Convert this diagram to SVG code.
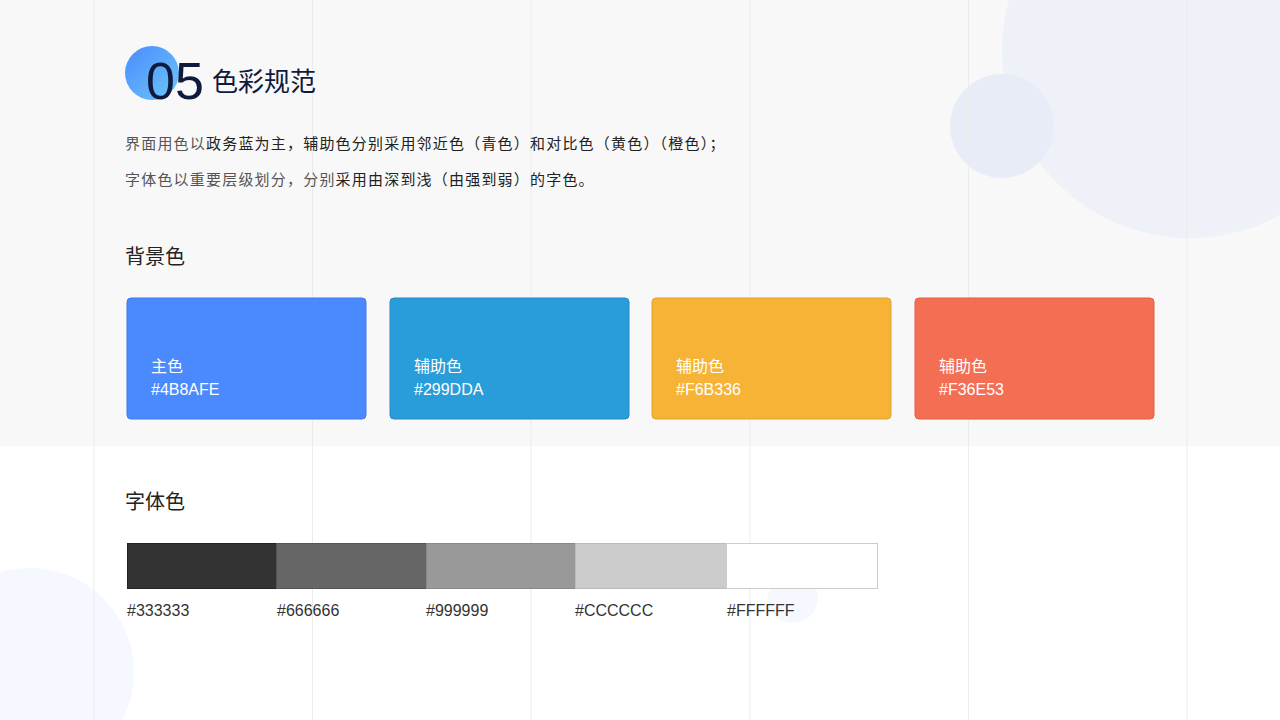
<svg xmlns="http://www.w3.org/2000/svg" width="1280" height="720" viewBox="0 0 1280 720">
<defs>
<linearGradient id="g" x1="0" y1="0" x2="1" y2="1"><stop offset="0" stop-color="#4B8AFE"/><stop offset="1" stop-color="#6CC8F8"/></linearGradient>
<style>
.t{font-family:"Noto Sans CJK SC","Noto Sans",sans-serif}
.l{font-family:"Liberation Sans","Noto Sans CJK SC",sans-serif}
.grid{stroke:#ebebeb;stroke-width:1}
.card text{fill:#fff;font-size:16px}
.sw{font-size:16px;fill:#333}
</style>
</defs>
<rect width="1280" height="720" fill="#fff"/>
<rect width="1280" height="446" fill="#f8f8f8"/>
<circle cx="1190" cy="50" r="188" fill="#eff1f9"/>
<circle cx="1002" cy="126" r="52" fill="#e8ecf7"/>
<circle cx="30" cy="672" r="104" fill="#f5f8fe"/>
<circle cx="793" cy="598" r="25" fill="#f5f8fe"/>
<g class="grid"><line x1="94" y1="0" x2="94" y2="720"/><line x1="312.5" y1="0" x2="312.5" y2="720"/><line x1="531" y1="0" x2="531" y2="720"/><line x1="750" y1="0" x2="750" y2="720"/><line x1="968.5" y1="0" x2="968.5" y2="720"/><line x1="1187" y1="0" x2="1187" y2="720"/></g>
<g id="title">
<circle cx="152" cy="73" r="27" fill="url(#g)"/>
<text x="146" y="99" class="l" font-size="52" fill="#0f1a3d">05</text>
<text x="212" y="91" class="t" font-size="26" fill="#0f1a3d">色彩规范</text>
</g>
<g id="desc" class="t" font-size="15" letter-spacing="1.2">
<text x="125" y="149" fill="#555">界面用色以<tspan fill="#222">政务蓝为主，辅助色分别采用邻近色（青色）和对比色（黄色）（橙色）；</tspan></text>
<text x="125" y="185" fill="#555">字体色以重要层级划分，分别<tspan fill="#222">采用由深到浅（由强到弱）的字色。</tspan></text>
</g>
<text x="125" y="264" class="t" font-size="20" fill="#222">背景色</text>
<g id="card1" class="card l"><rect x="127" y="298" width="239" height="121" rx="4" fill="#4B8AFE" stroke="#3f7ae8"/><text x="151" y="372" class="t">主色</text><text x="151" y="395">#4B8AFE</text></g>
<g id="card2" class="card l"><rect x="390" y="298" width="239" height="121" rx="4" fill="#299DDA" stroke="#228ac4"/><text x="414" y="372" class="t">辅助色</text><text x="414" y="395">#299DDA</text></g>
<g id="card3" class="card l"><rect x="652" y="298" width="239" height="121" rx="4" fill="#F6B336" stroke="#e3a22c"/><text x="676" y="372" class="t">辅助色</text><text x="676" y="395">#F6B336</text></g>
<g id="card4" class="card l"><rect x="915" y="298" width="239" height="121" rx="4" fill="#F36E53" stroke="#df5f45"/><text x="939" y="372" class="t">辅助色</text><text x="939" y="395">#F36E53</text></g>
<text x="125" y="509" class="t" font-size="20" fill="#222">字体色</text>
<g id="swatches">
<rect x="127.5" y="543.5" width="149" height="45" fill="#333" stroke="#222"/>
<rect x="276.5" y="543.5" width="150" height="45" fill="#666" stroke="#555"/>
<rect x="426.5" y="543.5" width="149" height="45" fill="#999" stroke="#888"/>
<rect x="575.5" y="543.5" width="151" height="45" fill="#ccc" stroke="#bbb"/>
<rect x="726.5" y="543.5" width="151" height="45" fill="#fff" stroke="#ccc"/>
<text x="127" y="616" class="l sw">#333333</text>
<text x="277" y="616" class="l sw">#666666</text>
<text x="426" y="616" class="l sw">#999999</text>
<text x="575" y="616" class="l sw">#CCCCCC</text>
<text x="727" y="616" class="l sw">#FFFFFF</text>
</g>
</svg>
